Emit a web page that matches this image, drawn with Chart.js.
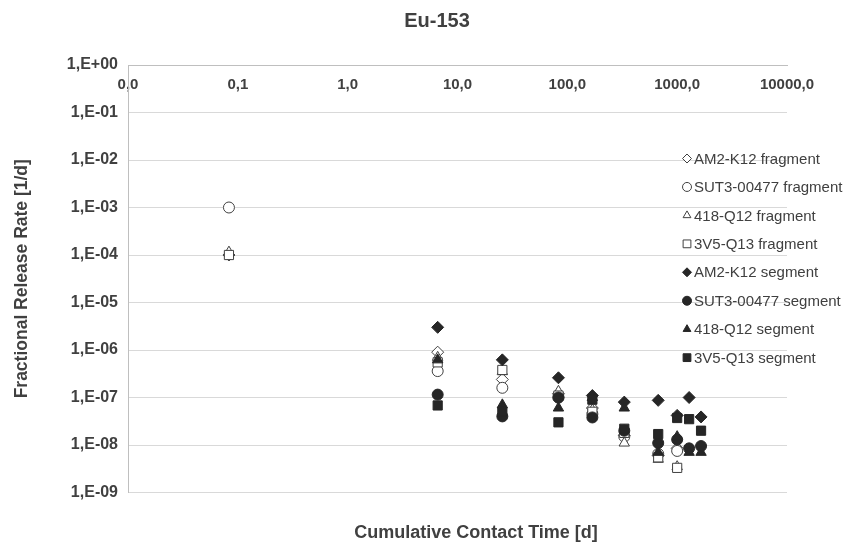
<!DOCTYPE html>
<html>
<head>
<meta charset="utf-8">
<title>Eu-153</title>
<script src="https://cdn.jsdelivr.net/npm/chart.js@4.4.0/dist/chart.umd.min.js"></script>
<style>
  body { margin: 0; background: #fff; }
  #wrap { width: 843px; height: 545px; }
</style>
</head>
<body>
<div id="wrap"><canvas id="chart-eu153" width="843" height="545"></canvas></div>
<script>
'use strict';

/* ── Data: cumulative contact time [d] ── */
const fragTime = [0.083, 6.6, 25.6, 83, 169, 330, 672, 1000];
const segTime  = [6.6, 25.6, 83, 169, 330, 672, 1000, 1285, 1650];

/* ── Fractional release rate [1/d] ── */
const am2Frag  = [1.0e-4, 9.0e-7, 2.4e-7, 1.2e-7, 6.0e-8, 1.6e-8, 6.0e-9, 8.5e-9];
const sut3Frag = [1.0e-3, 3.6e-7, 1.6e-7, 1.0e-7, 4.5e-8, 1.5e-8, 6.5e-9, 7.5e-9];
const q12Frag  = [1.15e-4, 7.0e-7, 3.5e-7, 1.35e-7, 5.5e-8, 1.1e-8, 5.0e-9, 3.5e-9];
const q13Frag  = [1.0e-4, 5.5e-7, 3.8e-7, 1.1e-7, 5.0e-8, 1.8e-8, 5.5e-9, 3.3e-9];

const am2Seg   = [3.0e-6, 6.2e-7, 2.6e-7, 1.1e-7, 8.0e-8, 8.7e-8, 4.2e-8, 1.0e-7, 3.9e-8];
const sut3Seg  = [1.15e-7, 4.0e-8, 1.0e-7, 3.8e-8, 2.0e-8, 1.1e-8, 1.3e-8, 8.5e-9, 9.5e-9];
const q12Seg   = [6.2e-7, 7.0e-8, 6.0e-8, 1.0e-7, 6.0e-8, 7.0e-9, 1.5e-8, 7.0e-9, 7.0e-9];
const q13Seg   = [6.8e-8, 5.0e-8, 3.0e-8, 9.0e-8, 2.2e-8, 1.7e-8, 3.7e-8, 3.5e-8, 2.0e-8];

const xTicks = [0.01, 0.1, 1, 10, 100, 1000, 10000];
const yTicks = [1, 1e-1, 1e-2, 1e-3, 1e-4, 1e-5, 1e-6, 1e-7, 1e-8, 1e-9];

const TEXT  = '#404040';
const DARK  = '#262626';
const FONT  = '"Liberation Sans", Arial, sans-serif';

const pairs = (xs, ys) => xs.map((x, i) => ({ x, y: ys[i] }));

function series(label, xs, ys, style, filled, radius) {
  return {
    label,
    data: pairs(xs, ys),
    pointStyle: style,
    pointRadius: radius,
    pointHoverRadius: radius,
    pointBorderWidth: 1,
    pointBackgroundColor: filled ? DARK : '#ffffff',
    pointBorderColor: filled ? DARK : TEXT,
    showLine: false,
  };
}

const datasets = [
  series('AM2-K12 fragment',    fragTime, am2Frag,  'rectRot',  false, 6),
  series('SUT3-00477 fragment', fragTime, sut3Frag, 'circle',   false, 5.5),
  series('418-Q12 fragment',    fragTime, q12Frag,  'triangle', false, 6),
  series('3V5-Q13 fragment',    fragTime, q13Frag,  'rect',     false, 6.5),
  series('AM2-K12 segment',     segTime,  am2Seg,   'rectRot',  true,  6),
  series('SUT3-00477 segment',  segTime,  sut3Seg,  'circle',   true,  5.5),
  series('418-Q12 segment',     segTime,  q12Seg,   'triangle', true,  6),
  series('3V5-Q13 segment',     segTime,  q13Seg,   'rect',     true,  6.5),
];
// later series sit on top
datasets.forEach((d, i) => { d.order = datasets.length - i; });

/* ── Chart title + x-axis title (x-axis sits at the top, inside the plot) ── */
const chartTitles = {
  id: 'chartTitles',
  afterDraw(chart) {
    const ctx = chart.ctx;
    ctx.save();
    ctx.fillStyle = TEXT;
    ctx.textAlign = 'center';
    ctx.textBaseline = 'middle';
    ctx.font = 'bold 20px ' + FONT;
    ctx.fillText('Eu-153', 437, 21);
    ctx.font = 'bold 18px ' + FONT;
    ctx.fillText('Cumulative Contact Time [d]', 476, 533);
    ctx.restore();
  },
};

/* ── Legend drawn inside the plot, right side ── */
const insideLegend = {
  id: 'insideLegend',
  afterDraw(chart) {
    const ctx = chart.ctx;
    const x0 = 687, y0 = 158.5, step = 28.45;
    ctx.save();
    ctx.font = '15px ' + FONT;
    ctx.textBaseline = 'middle';
    ctx.textAlign = 'left';
    chart.data.datasets.forEach((ds, i) => {
      const y = y0 + i * step;
      ctx.fillStyle = ds.pointBackgroundColor;
      ctx.strokeStyle = ds.pointBorderColor;
      ctx.lineWidth = 1;
      Chart.helpers.drawPoint(ctx, {
        pointStyle: ds.pointStyle,
        radius: ds.pointStyle === 'rect' ? 5.5 : 4.5,
        borderWidth: 1,
        rotation: 0,
      }, x0, y);
      ctx.fillStyle = TEXT;
      ctx.fillText(ds.label, x0 + 7, y + 1);
    });
    ctx.restore();
  },
};

new Chart(document.getElementById('chart-eu153'), {
  type: 'scatter',
  data: { datasets },
  options: {
    responsive: false,
    animation: false,
    layout: { padding: { left: 0, right: 56, top: 65, bottom: 52.5 } },
    plugins: {
      legend: { display: false },
      tooltip: { enabled: false },
    },
    scales: {
      x: {
        type: 'logarithmic',
        position: { y: 1 },
        min: 0.01,
        max: 10000,
        afterBuildTicks: s => { s.ticks = xTicks.map(v => ({ value: v })); },
        grid: { display: false, drawTicks: false },
        border: { display: true, color: '#bfbfbf', width: 1 },
        ticks: {
          autoSkip: false,
          maxRotation: 0,
          padding: 11,
          color: TEXT,
          font: { family: FONT, size: 15, weight: 'bold' },
          callback: v => Number(v).toFixed(1).replace('.', ','),
        },
      },
      y: {
        type: 'logarithmic',
        min: 1e-9,
        max: 1,
        afterBuildTicks: s => { s.ticks = yTicks.map(v => ({ value: v })); },
        afterFit: s => { s.width = 128; },
        grid: { color: '#d9d9d9', drawTicks: false },
        border: { display: true, color: '#bfbfbf', width: 1 },
        ticks: {
          autoSkip: false,
          padding: 10,
          color: TEXT,
          font: { family: FONT, size: 16, weight: 'bold' },
          callback: v => {
            const e = Math.round(Math.log10(v));
            return '1,E' + (e >= 0 ? '+' : '-') + String(Math.abs(e)).padStart(2, '0');
          },
        },
        title: {
          display: true,
          text: 'Fractional Release Rate [1/d]',
          color: TEXT,
          font: { family: FONT, size: 17.5, weight: 'bold' },
          padding: { top: 12, bottom: 0 },
        },
      },
    },
  },
  plugins: [chartTitles, insideLegend],
});
</script>
</body>
</html>
